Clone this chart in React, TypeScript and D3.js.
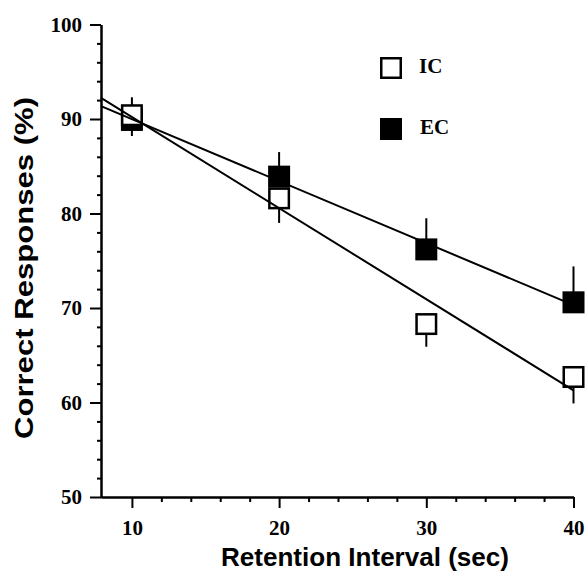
import React, { useEffect, useRef } from 'react';
import * as d3 from 'd3';

const WIDTH = 588;
const HEIGHT = 571;

const MARGIN = { top: 24.5, right: 14.5, bottom: 74, left: 101 };

// retention interval (sec)
const intervals = [10, 20, 30, 40];
// IC = open squares, EC = filled squares (% correct)
const icValues = [90.4, 81.6, 68.3, 62.7];
const ecValues = [89.9, 83.9, 76.2, 70.6];
// error bar length, drawn in one direction only
const icErrors = [1.9, 2.6, 2.4, 2.8];
const ecErrors = [1.7, 2.6, 3.3, 3.8];
const icErrorDir = [1, -1, -1, -1];
const ecErrorDir = [-1, 1, 1, 1];

const xTicks = [10, 20, 30, 40];
const yTicks = [50, 60, 70, 80, 90, 100];

const SERIF = '"Liberation Serif", "Times New Roman", serif';
const SANS = '"Liberation Sans", Arial, sans-serif';
const SQ = 22;

// least squares fit
const fit = (xs: number[], ys: number[]) => {
  const mx = d3.mean(xs) as number;
  const my = d3.mean(ys) as number;
  const num = d3.sum(xs, (x, i) => (x - mx) * (ys[i] - my));
  const den = d3.sum(xs, x => (x - mx) * (x - mx));
  const slope = num / den;
  return (x: number) => my + slope * (x - mx);
};

export default function App() {
  const ref = useRef<SVGSVGElement>(null);

  useEffect(() => {
    const svg = d3.select(ref.current);
    svg.selectAll('*').remove();

    const x = d3.scaleLinear()
      .domain([7.9, 40])
      .range([MARGIN.left, WIDTH - MARGIN.right]);

    const y = d3.scaleLinear()
      .domain([50, 100])
      .range([HEIGHT - MARGIN.bottom, MARGIN.top]);

    const xMinor = d3.range(12, 40, 2).filter(v => v % 10 !== 0);
    const yMinor = d3.range(52, 100, 2).filter(v => v % 10 !== 0);

    const styleAxis = (g: any) => {
      g.select('.domain').attr('stroke-width', 2).attr('stroke', '#000');
      g.selectAll('line').attr('stroke-width', 2).attr('stroke', '#000');
      g.selectAll('text')
        .attr('font-family', SERIF)
        .attr('font-weight', 'bold')
        .attr('font-size', 21)
        .attr('fill', '#000');
    };

    // minor ticks
    svg.append('g')
      .attr('transform', `translate(0, ${y(50)})`)
      .call(d3.axisBottom(x).tickValues(xMinor).tickSize(5).tickSizeOuter(0).tickFormat(() => ''))
      .call(styleAxis);
    svg.append('g')
      .attr('transform', `translate(${x(7.9)}, 0)`)
      .call(d3.axisLeft(y).tickValues(yMinor).tickSize(4).tickSizeOuter(0).tickFormat(() => ''))
      .call(styleAxis);

    // major ticks
    svg.append('g')
      .attr('transform', `translate(0, ${y(50)})`)
      .call(d3.axisBottom(x).tickValues(xTicks).tickSize(11).tickPadding(12).tickSizeOuter(0).tickFormat(d3.format('d')))
      .call(styleAxis);
    svg.append('g')
      .attr('transform', `translate(${x(7.9)}, 0)`)
      .call(d3.axisLeft(y).tickValues(yTicks).tickSize(11).tickPadding(8).tickSizeOuter(0).tickFormat(d3.format('d')))
      .call(styleAxis);

    const plot = svg.append('g');

    // error bars
    const drawErrors = (vals: number[], errs: number[], dirs: number[]) => {
      plot.selectAll(null)
        .data(intervals)
        .enter()
        .append('line')
        .attr('x1', d => x(d))
        .attr('x2', d => x(d))
        .attr('y1', (d, i) => y(vals[i]))
        .attr('y2', (d, i) => y(vals[i] + dirs[i] * errs[i]))
        .attr('stroke', '#000')
        .attr('stroke-width', 2);
    };
    drawErrors(ecValues, ecErrors, ecErrorDir);
    drawErrors(icValues, icErrors, icErrorDir);

    // EC filled squares
    plot.selectAll(null)
      .data(intervals)
      .enter()
      .append('rect')
      .attr('x', d => x(d) - SQ / 2)
      .attr('y', (d, i) => y(ecValues[i]) - SQ / 2)
      .attr('width', SQ)
      .attr('height', SQ)
      .attr('fill', '#000');

    // IC open squares
    plot.selectAll(null)
      .data(intervals)
      .enter()
      .append('rect')
      .attr('x', d => x(d) - (SQ - 2.5) / 2)
      .attr('y', (d, i) => y(icValues[i]) - (SQ - 2.5) / 2)
      .attr('width', SQ - 2.5)
      .attr('height', SQ - 2.5)
      .attr('fill', '#fff')
      .attr('stroke', '#000')
      .attr('stroke-width', 2.5);

    // regression lines
    const icFit = fit(intervals, icValues);
    const ecFit = fit(intervals, ecValues);
    [icFit, ecFit].forEach(f => {
      plot.append('line')
        .attr('x1', x(7.9))
        .attr('y1', y(f(7.9)))
        .attr('x2', x(40))
        .attr('y2', y(f(40)))
        .attr('stroke', '#000')
        .attr('stroke-width', 2);
    });

    // legend
    const legend = svg.append('g');
    legend.append('rect')
      .attr('x', 381.25).attr('y', 58.25)
      .attr('width', SQ - 2.5).attr('height', SQ - 2.5)
      .attr('fill', '#fff').attr('stroke', '#000').attr('stroke-width', 2.5);
    legend.append('text')
      .attr('x', 419).attr('y', 73)
      .attr('font-family', SERIF).attr('font-weight', 'bold').attr('font-size', 21)
      .text('IC');
    legend.append('rect')
      .attr('x', 380).attr('y', 118)
      .attr('width', SQ).attr('height', SQ)
      .attr('fill', '#000');
    legend.append('text')
      .attr('x', 420).attr('y', 133.5)
      .attr('font-family', SERIF).attr('font-weight', 'bold').attr('font-size', 21)
      .text('EC');

    // axis titles
    svg.append('text')
      .attr('x', 365)
      .attr('y', 566)
      .attr('text-anchor', 'middle')
      .attr('font-family', SANS)
      .attr('font-weight', 'bold')
      .attr('font-size', 25)
      .attr('textLength', 288)
      .attr('lengthAdjust', 'spacingAndGlyphs')
      .text('Retention Interval (sec)');

    svg.append('text')
      .attr('transform', `translate(33, 268) rotate(-90)`)
      .attr('text-anchor', 'middle')
      .attr('font-family', SANS)
      .attr('font-weight', 'bold')
      .attr('font-size', 25)
      .attr('textLength', 342)
      .attr('lengthAdjust', 'spacingAndGlyphs')
      .text('Correct Responses (%)');
  }, []);

  return (
    <svg
      ref={ref}
      width={WIDTH}
      height={HEIGHT}
      viewBox={`0 0 ${WIDTH} ${HEIGHT}`}
      style={{ position: 'absolute', left: 0, top: 0, background: '#fff' }}
    />
  );
}
